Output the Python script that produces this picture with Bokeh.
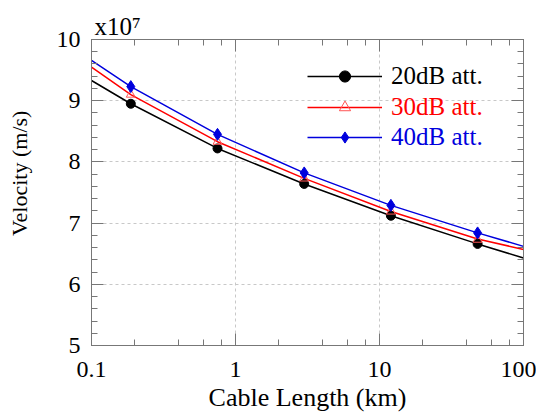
from bokeh.plotting import figure
from bokeh.models import (Range1d, FixedTicker, LogTicker, LogAxis, LinearAxis, Legend, LegendItem,
                          CustomJSTickFormatter)
from bokeh.embed import file_html
from bokeh.resources import INLINE

# data (velocity in units of 1e7 m/s)
x_line = [0.1, 0.1875, 0.75, 3, 12, 48, 100]
v20_line = [9.33, 8.95, 8.22, 7.64, 7.12, 6.66, 6.43]
v30_line = [9.55, 9.10, 8.33, 7.73, 7.19, 6.74, 6.57]
v40_line = [9.66, 9.23, 8.45, 7.82, 7.29, 6.84, 6.62]

x_mark = [0.1875, 0.75, 3, 12, 48]
v20_mark = [8.95, 8.22, 7.64, 7.12, 6.66]
v30_mark = [9.10, 8.33, 7.73, 7.19, 6.73]
v40_mark = [9.23, 8.45, 7.82, 7.29, 6.84]

y_ticks = [5, 6, 7, 8, 9, 10]
y_minor = [5 + 0.2 * i for i in range(26)]
labels = ["20dB att.", "30dB att.", "40dB att."]
colors = ["black", "#FF0000", "#0000DD"]
scale_text = "x10\u2077"
x_title = "Cable Length (km)"
y_title = "Velocity (m/s)"

FONT = "Liberation Serif"
AX = "#777777"

p = figure(width=536, height=416, x_axis_type="log", output_backend="svg", toolbar_location=None,
           x_range=Range1d(0.1, 100), y_range=Range1d(5, 10),
           min_border_left=91, min_border_right=13, min_border_top=39, min_border_bottom=71)
p.outline_line_color = AX
p.background_fill_color = "white"
p.border_fill_color = "white"

p.title.text = scale_text
p.title.align = "left"
p.title.offset = 3
p.title.standoff = 0
p.title.text_font = FONT
p.title.text_font_size = "25px"
p.title.text_font_style = "normal"
p.title.text_color = "black"

def style(ax, show_labels=True):
    ax.axis_line_color = AX
    ax.major_tick_line_color = AX
    ax.minor_tick_line_color = AX
    ax.major_tick_in = 12
    ax.major_tick_out = 0
    ax.minor_tick_in = 6
    ax.minor_tick_out = 0
    ax.major_label_text_font = FONT
    ax.major_label_text_font_size = "24px"
    ax.major_label_text_color = "black"
    ax.axis_label_text_font = FONT
    ax.axis_label_text_font_style = "normal"
    ax.axis_label_text_color = "black"
    if not show_labels:
        ax.formatter = CustomJSTickFormatter(code="return ''")
        ax.major_label_text_font_size = "0px"
        ax.major_label_standoff = 0

xt = LogTicker()
yt = FixedTicker(ticks=y_ticks, minor_ticks=y_minor)

p.xaxis.ticker = xt
p.yaxis.ticker = yt
style(p.xaxis[0])
style(p.yaxis[0])
p.xaxis.axis_label = x_title
p.yaxis.axis_label = "\u00a0" * 7 + y_title
p.xaxis.axis_label_text_font_size = "26px"
p.yaxis.axis_label_text_font_size = "22px"
p.xaxis.major_label_standoff = 16
p.xaxis.axis_label_standoff = 3
p.yaxis.major_label_standoff = 11
p.yaxis.axis_label_standoff = 22
p.xaxis.formatter = CustomJSTickFormatter(code="return tick < 1 ? tick.toFixed(1) : tick.toFixed(0)")

top = LogAxis(ticker=xt)
style(top, False)
p.add_layout(top, "above")
right = LinearAxis(ticker=yt)
style(right, False)
p.add_layout(right, "right")

p.xgrid.ticker = FixedTicker(ticks=[1, 10])
p.ygrid.ticker = FixedTicker(ticks=[6, 7, 8, 9])
for g in (p.xgrid[0], p.ygrid[0]):
    g.grid_line_color = "#C8C8C8"
    g.grid_line_dash = "3 3"
    g.grid_line_width = 1

r20l = p.line(x_line, v20_line, line_color=colors[0], line_width=1.5)
r30l = p.line(x_line, v30_line, line_color=colors[1], line_width=1.5)
r40l = p.line(x_line, v40_line, line_color=colors[2], line_width=1.5)
r20m = p.scatter(x_mark, v20_mark, marker="circle", size=9, fill_color="black", line_color="black")
r30m = p.scatter(x_mark, v30_mark, marker="triangle", size=9, fill_color=None, line_color="#FF5555", line_width=1)
r40m = p.scatter(x_mark, v40_mark, marker="diamond", size=12, fill_color=colors[2], line_color=colors[2])

rends = [[r20l, r20m], [r30l, r30m], [r40l, r40m]]
bottoms = [255, 224, 194]
for lab, col, rr, b in zip(labels, colors, rends, bottoms):
    lg = Legend(items=[LegendItem(label=lab, renderers=rr)], location=(216, b),
                border_line_color=None, background_fill_alpha=0, padding=0, margin=0,
                glyph_width=75, glyph_height=28, label_height=28, label_standoff=9,
                label_text_font=FONT, label_text_font_size="25px", label_text_color=col)
    p.add_layout(lg)

open("out.html", "w").write(file_html(p, INLINE))
